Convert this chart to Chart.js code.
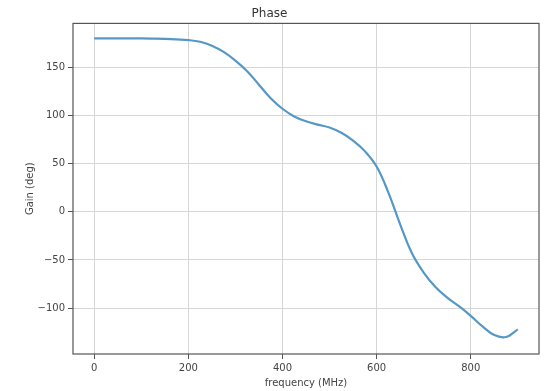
<!DOCTYPE html>
<html>
<head>
    <meta charset="utf-8">
    <title>Phase</title>
    <script src="https://cdn.jsdelivr.net/npm/chart.js@4/dist/chart.umd.min.js"></script>
    <style>
        body { margin: 0; background: #fff; }
    </style>
</head>
<body>
<canvas id="phase-chart" width="548" height="391"></canvas>
<script>
    // frequency in MHz, phase in degrees
    var freq = [0, 25, 50, 75, 100, 125, 150, 175, 200, 225, 250, 275, 300, 325, 350, 375,
        400, 425, 450, 475, 500, 525, 550, 575, 600, 625, 650, 675, 700, 725, 750, 775,
        800, 825, 850, 875, 900];
    var phase = [180, 180, 180, 180, 180, 179.8, 179.5, 179, 178.3, 176.5, 172.5, 166, 157, 146, 132, 118,
        107, 99, 94, 90.5, 87.5, 82, 74, 63, 47, 20, -13, -43, -63, -78, -89, -98,
        -108, -119, -128, -130, -122];
    var xTicks = [0, 200, 400, 600, 800];
    var yTicks = [-100, -50, 0, 50, 100, 150];

    var points = freq.map(function (f, i) {
        return { x: f, y: phase[i] };
    });

    var textColor = '#444';
    var font = { family: 'DejaVu Sans', size: 10 };

    var frame = {
        id: 'frame',
        afterDraw: function (chart) {
            var a = chart.chartArea;
            var ctx = chart.ctx;
            ctx.save();
            ctx.strokeStyle = '#555';
            ctx.lineWidth = 1.2;
            ctx.strokeRect(a.left, a.top, a.right - a.left, a.bottom - a.top);
            ctx.restore();
        }
    };

    function minus(v) {
        return String(v).replace('-', '\u2212');
    }

    new Chart(document.getElementById('phase-chart'), {
        type: 'line',
        data: {
            datasets: [{
                data: points,
                borderColor: '#5598c6',
                borderWidth: 2.2,
                pointRadius: 0,
                fill: false,
                tension: 0.4
            }]
        },
        options: {
            responsive: false,
            animation: false,
            layout: { padding: { left: 0, right: 9, top: 0, bottom: 2 } },
            plugins: {
                legend: { display: false },
                tooltip: { enabled: false },
                title: {
                    display: true,
                    text: 'Phase',
                    color: '#333',
                    font: { family: 'DejaVu Sans', size: 12, weight: 'normal' },
                    padding: { top: 7, bottom: 2 }
                }
            },
            scales: {
                x: {
                    type: 'linear',
                    min: -45,
                    max: 945,
                    afterBuildTicks: function (axis) {
                        axis.ticks = xTicks.map(function (v) { return { value: v }; });
                    },
                    ticks: { color: textColor, font: font, padding: 3, maxRotation: 0,
                        callback: function (v) { return minus(v); } },
                    grid: { color: '#d6d6d6', lineWidth: 1, tickLength: 5, tickColor: '#555' },
                    border: { display: false },
                    title: {
                        display: true,
                        text: 'frequency (MHz)',
                        color: textColor,
                        font: font,
                        padding: { top: 0, bottom: 0 }
                    }
                },
                y: {
                    min: -147.6,
                    max: 195.6,
                    afterBuildTicks: function (axis) {
                        axis.ticks = yTicks.map(function (v) { return { value: v }; });
                    },
                    afterFit: function (axis) {
                        axis.width = 73;
                    },
                    ticks: { color: textColor, font: font, padding: 3,
                        callback: function (v) { return minus(v); } },
                    grid: { color: '#d6d6d6', lineWidth: 1, tickLength: 5, tickColor: '#555' },
                    border: { display: false },
                    title: {
                        display: true,
                        text: 'Gain (deg)',
                        color: textColor,
                        font: font,
                        padding: { top: 24, bottom: 0 }
                    }
                }
            }
        },
        plugins: [frame]
    });
</script>
</body>
</html>
